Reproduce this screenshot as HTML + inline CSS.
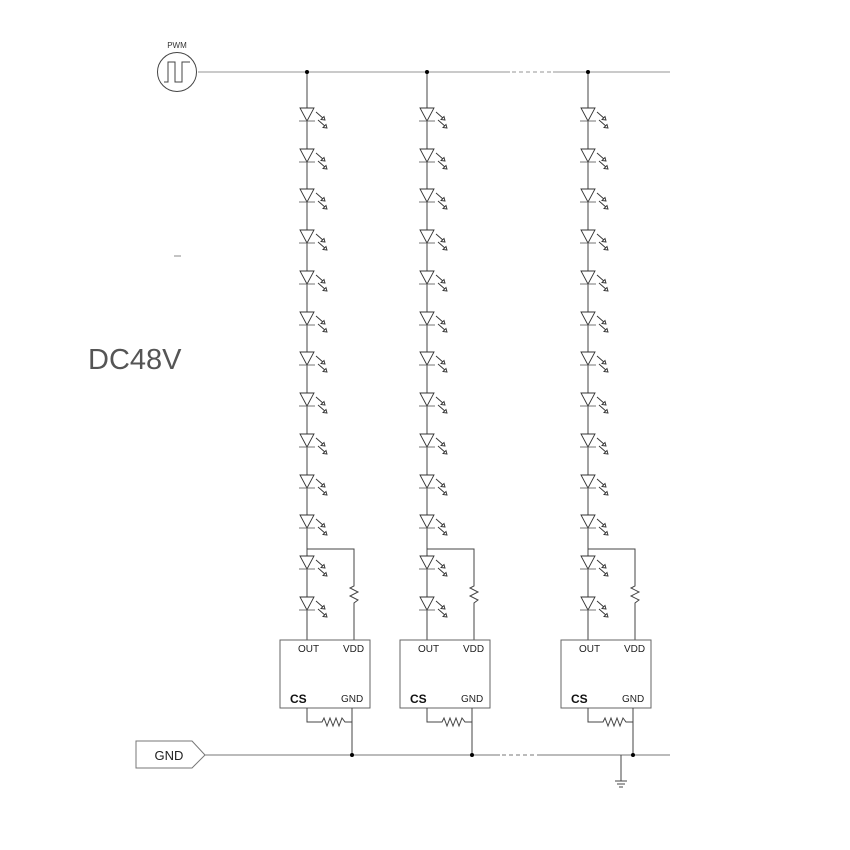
<!DOCTYPE html>
<html><head><style>body{margin:0;background:#fff}svg{display:block}text{font-family:"Liberation Sans",Arial,sans-serif}</style></head>
<body>
<svg width="850" height="850" viewBox="0 0 850 850" xmlns="http://www.w3.org/2000/svg">
<defs>
<g id="led" fill="none" stroke="#333" stroke-width="0.9">
<polygon points="-7,-7 7,-7 0,6" fill="#fff"/>
<line x1="-8" y1="6" x2="8" y2="6" stroke="#666"/>
<line x1="9" y1="-3" x2="17" y2="4"/>
<polygon points="18,5 14,4.5 17,1.5" fill="#fff"/>
<line x1="11" y1="5" x2="19" y2="12"/>
<polygon points="20,13 16,12.5 19,9.5" fill="#fff"/>
</g>
<g id="ch" fill="none" stroke="#444" stroke-width="1">
<line x1="0" y1="72" x2="0" y2="640"/>
<polyline points="0,549 47,549 47,586 43,588 51,592 43,596 51,600 47,603 47,640"/>
<rect x="-27" y="640" width="90" height="68" fill="#fff" stroke="#666"/>
<polyline points="0,708 0,722 15,722 17,718 20,726 23,718 26,726 29,718 32,726 35,718 38,722 45,722"/>
<line x1="45" y1="708" x2="45" y2="755"/>
<circle cx="45" cy="755" r="2" fill="#000" stroke="none"/>
<circle cx="0" cy="72" r="2" fill="#000" stroke="none"/>
</g>
<g id="leds">
<use href="#led" y="115"/><use href="#led" y="156"/><use href="#led" y="196"/><use href="#led" y="237"/><use href="#led" y="278"/><use href="#led" y="319"/><use href="#led" y="359"/><use href="#led" y="400"/><use href="#led" y="441"/><use href="#led" y="482"/><use href="#led" y="522"/><use href="#led" y="563"/><use href="#led" y="604"/>
</g>
</defs>
<g stroke="#aaa" stroke-width="1.2">
<line x1="198" y1="72" x2="510" y2="72"/>
<line x1="512" y1="72" x2="551" y2="72" stroke-dasharray="4,3"/>
<line x1="553" y1="72" x2="670" y2="72"/>
</g>
<g stroke="#777" stroke-width="1">
<line x1="205" y1="755" x2="500" y2="755"/>
<line x1="502" y1="755" x2="535" y2="755" stroke-dasharray="4,3"/>
<line x1="537" y1="755" x2="670" y2="755"/>
</g>
<circle cx="177" cy="72" r="19.5" fill="none" stroke="#444"/>
<polyline points="164,82 168,82 168,62 175,62 175,82 182,82 182,62 190,62" fill="none" stroke="#444"/>
<text x="177" y="48" font-size="8" text-anchor="middle" fill="#333">PWM</text>
<use href="#ch" x="307"/><use href="#leds" x="307"/>
<use href="#ch" x="427"/><use href="#leds" x="427"/>
<use href="#ch" x="588"/><use href="#leds" x="588"/>
<g font-size="10" fill="#222">
<text x="298" y="652">OUT</text><text x="343" y="652">VDD</text><text x="341" y="702">GND</text>
<text x="418" y="652">OUT</text><text x="463" y="652">VDD</text><text x="461" y="702">GND</text>
<text x="579" y="652">OUT</text><text x="624" y="652">VDD</text><text x="622" y="702">GND</text>
</g>
<g font-size="12" font-weight="bold" fill="#111">
<text x="290" y="703">CS</text><text x="410" y="703">CS</text><text x="571" y="703">CS</text>
</g>
<g stroke="#444" fill="none">
<line x1="621" y1="755" x2="621" y2="781"/>
<line x1="615" y1="781" x2="627" y2="781"/>
<line x1="617" y1="784" x2="625" y2="784"/>
<line x1="619" y1="787" x2="623" y2="787"/>
</g>
<polygon points="136,741 192,741 205,755 192,768 136,768" fill="#fff" stroke="#777"/>
<text x="169" y="760" font-size="13" text-anchor="middle" fill="#222">GND</text>
<line x1="174" y1="256" x2="181" y2="256" stroke="#888"/>
<text x="88" y="369" font-size="29" fill="#555">DC48V</text>
</svg>
</body></html>
